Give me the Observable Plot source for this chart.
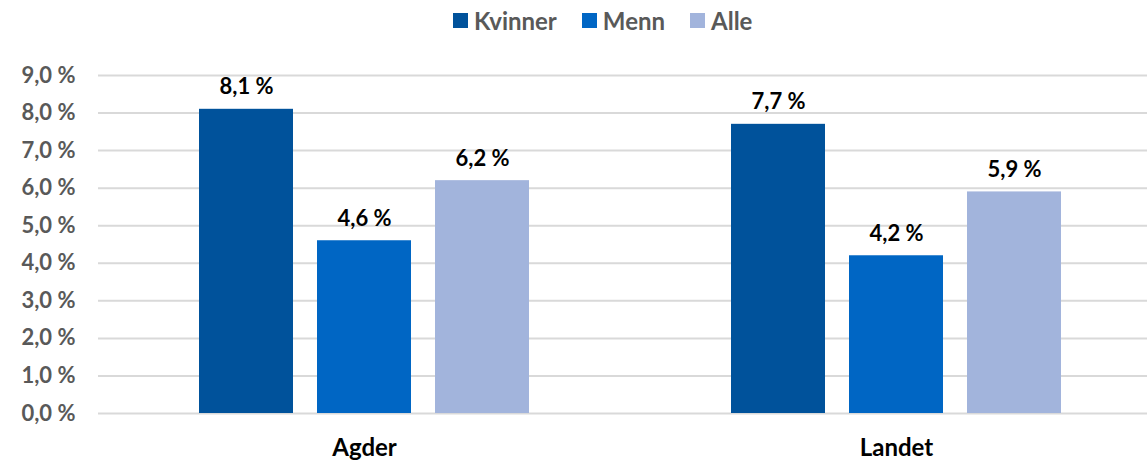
<!DOCTYPE html>
<html><head><meta charset="utf-8">
<script src="https://cdn.jsdelivr.net/npm/d3@7"></script>
<script src="https://cdn.jsdelivr.net/npm/@observablehq/plot@0.6"></script>
<style>
body{margin:0;background:#fff;font-family:Lato,"Open Sans",sans-serif}
#wrap{position:relative;width:1147px;height:463px;overflow:hidden}
#legend{position:absolute;left:453px;top:6px;height:28px;display:flex;align-items:center;font-weight:bold;font-size:24px;color:#595959}
#legend .item{display:flex;align-items:center;margin-right:25px}
#legend .sw{width:15px;height:15px;margin-right:6px}
#chart{position:absolute;top:40px;left:0;width:1147px;height:423px}
#chart svg{position:absolute;top:0;left:0;background:transparent}
</style></head>
<body><div id="wrap"><div id="legend"></div><div id="chart"></div></div>
<script>
const regions = ["Agder", "Landet"];
const series = ["Kvinner", "Menn", "Alle"];
const agderValues = [8.1, 4.6, 6.2];
const landetValues = [7.7, 4.2, 5.9];
const seriesColors = ["#00529B", "#0066C4", "#A2B4DC"];
const yTicks = [0, 1, 2, 3, 4, 5, 6, 7, 8, 9];

const valuesByRegion = {Agder: agderValues, Landet: landetValues};
const data = regions.flatMap(r => series.map((s, i) => ({region: r, series: s, value: valuesByRegion[r][i]})));
const fmt = d => d.toFixed(1).replace(".", ",") + "\u00a0%";

const W = 1147, H = 423, mt = 35, mb = 50, ml = 98, mr = 0;

const legend = document.getElementById("legend");
series.forEach((s, i) => {
  const it = document.createElement("div"); it.className = "item";
  const sw = document.createElement("div"); sw.className = "sw"; sw.style.background = seriesColors[i];
  it.appendChild(sw); it.appendChild(document.createTextNode(s));
  legend.appendChild(it);
});

const base = Plot.plot({
  width: W, height: H, marginTop: mt, marginBottom: mb, marginLeft: ml, marginRight: mr,
  style: {fontFamily: "Lato, 'Open Sans', sans-serif", fontSize: "22px", fontWeight: "bold", color: "#595959", background: "transparent"},
  y: {domain: [0, 9], ticks: yTicks, tickFormat: fmt, tickSize: 0, tickPadding: 23, label: null},
  marks: [
    Plot.ruleY(yTicks, {stroke: "#d9d9d9", strokeWidth: 2})
  ]
});

const bars = Plot.plot({
  width: W, height: H, marginTop: mt, marginBottom: mb, marginLeft: ml, marginRight: mr,
  style: {fontFamily: "Lato, 'Open Sans', sans-serif", fontSize: "24px", fontWeight: "bold", color: "#000", background: "transparent"},
  fx: {domain: regions, paddingInner: 0.3346, paddingOuter: 0.1532, align: 0.546, axis: "bottom", tickSize: 0, tickPadding: 25, label: null},
  x: {domain: series, paddingInner: 0.2034, paddingOuter: 0.1017, axis: null},
  y: {domain: [0, 9], axis: null},
  color: {domain: series, range: seriesColors},
  marks: [
    Plot.barY(data, {fx: "region", x: "series", y: "value", fill: "series"}),
    Plot.text(data, {fx: "region", x: "series", y: "value", text: d => fmt(d.value), dy: -15, lineAnchor: "bottom", fontSize: 22, fontWeight: "bold", fill: "#000"})
  ]
});

const chart = document.getElementById("chart");
chart.appendChild(base);
chart.appendChild(bars);
</script></body></html>
